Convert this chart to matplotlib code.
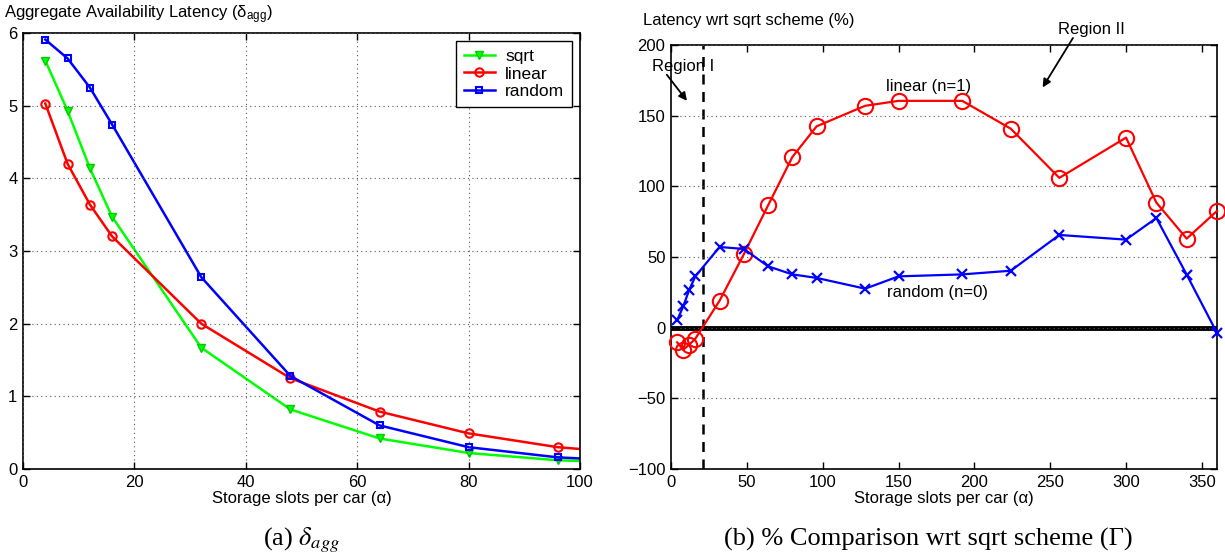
import matplotlib
matplotlib.use('Agg')
import matplotlib.pyplot as plt

plt.rcParams['font.family'] = ['Liberation Sans', 'DejaVu Sans']
plt.rcParams['mathtext.fontset'] = 'custom'
plt.rcParams['mathtext.rm'] = 'Liberation Sans'
plt.rcParams['mathtext.it'] = 'Liberation Sans:italic'
plt.rcParams['axes.unicode_minus'] = True

# --------- (a) 지연시간 데이터 ---------
slots_a = [4, 8, 12, 16, 32, 48, 64, 80, 96, 112]
sqrt_lat = [5.62, 4.93, 4.14, 3.47, 1.67, 0.82, 0.42, 0.22, 0.12, 0.08]
linear_lat = [5.03, 4.20, 3.64, 3.20, 2.00, 1.25, 0.79, 0.49, 0.30, 0.20]
random_lat = [5.91, 5.65, 5.25, 4.74, 2.64, 1.28, 0.60, 0.30, 0.16, 0.10]

# --------- (b) sqrt 대비 비율 (%) ---------
slots_lin = [4, 8, 12, 16, 32, 48, 64, 80, 96, 128, 150, 192, 224, 256, 300, 320, 340, 360]
linear_pct = [-10.4, -15.6, -12.0, -7.8, 19.1, 52, 86.6, 120.8, 142.5, 157, 160.5,
              160.5, 140.8, 106, 134.5, 88.5, 63, 82.6]
slots_rnd = [4, 8, 12, 16, 32, 48, 64, 80, 96, 128, 150, 192, 224, 256, 300, 320, 340, 360]
random_pct = [5.2, 15, 26.8, 36.3, 57.1, 55.7, 43.4, 37.7, 35.2, 27.6, 36.3, 37.7,
              40.3, 65.6, 62.3, 77.6, 37.5, -3.8]
REGION_SPLIT = 21

fig = plt.figure(figsize=(12.25, 5.56), dpi=100)
ax1 = fig.add_axes([0.0188, 0.1565, 0.4547, 0.7841])
ax2 = fig.add_axes([0.5478, 0.1565, 0.4457, 0.7625])

FS = 12

# --------- (a) ---------
ax1.plot(slots_a, sqrt_lat, color=(0, 1, 0), lw=1.8, marker='v', ms=6,
         mfc=(0, 1, 0), mec=(0, 0.8, 0), label='sqrt')
ax1.plot(slots_a, linear_lat, color='red', lw=1.8, marker='o', ms=6,
         mfc='none', mec='red', mew=1.5, label='linear')
ax1.plot(slots_a, random_lat, color='blue', lw=1.8, marker='s', ms=5,
         mfc='none', mec='blue', mew=1.5, label='random')
ax1.set_xlim(0, 100)
ax1.set_ylim(0, 6)
ax1.set_xticks(range(0, 101, 20))
ax1.set_yticks(range(0, 7))
ax1.grid(True, linestyle=(0, (1, 3)), color='0.35', lw=0.8)
ax1.set_xlabel('Storage slots per car (α)', fontsize=FS, labelpad=1)
leg = ax1.legend(loc='upper right', fontsize=12.5, fancybox=False, framealpha=1,
                 edgecolor='black', handlelength=1.8, borderaxespad=0.45,
                 labelspacing=0.15, borderpad=0.45, handletextpad=0.6)
leg.get_frame().set_linewidth(1.0)
fig.text(0.0035, 0.974, r'Aggregate Availability Latency (δ$_{\mathrm{agg}}$)',
         fontsize=FS, ha='left', va='center')
fig.text(0.2465, 0.028, r'(a) $\delta_{agg}$', fontsize=19, ha='center', va='center',
         family='Liberation Serif', math_fontfamily='stix')

# --------- (b) ---------
ax2.axhline(0, color='black', lw=3.5, zorder=1)
ax2.axvline(REGION_SPLIT, color='black', lw=1.8, ls=(0, (4, 3)), zorder=1)
ax2.plot(slots_lin, linear_pct, color='red', lw=1.6, marker='o', ms=11,
         mfc='none', mec='red', mew=1.5, zorder=3, clip_on=False)
ax2.plot(slots_rnd, random_pct, color='blue', lw=1.6, marker='x', ms=7,
         mec='blue', mew=1.6, zorder=3, clip_on=False)
ax2.set_xlim(0, 360)
ax2.set_ylim(-100, 200)
ax2.set_xticks(range(0, 351, 50))
ax2.set_yticks(range(-100, 201, 50))
ax2.yaxis.grid(True, linestyle=(0, (1, 3)), color='0.35', lw=0.8)
ax2.set_xlabel('Storage slots per car (α)', fontsize=FS, labelpad=1)
ax2.text(170, 171, 'linear (n=1)', fontsize=FS, ha='center', va='center')
ax2.text(176, 25, 'random (n=0)', fontsize=FS, ha='center', va='center')

# 영역 표시 (Region I / II)
arrow = dict(arrowstyle='-|>', color='black', lw=1.3, mutation_scale=12,
             shrinkA=0, shrinkB=0, clip_on=False)
ax2.text(8, 185, 'Region I', fontsize=FS, ha='center', va='center', clip_on=False)
ax2.annotate('', xy=(10.5, 160.5), xytext=(-2.8, 179), annotation_clip=False,
             arrowprops=arrow)
ax2.text(277, 211, 'Region II', fontsize=FS, ha='center', va='center', clip_on=False)
ax2.annotate('', xy=(245, 170), xytext=(265, 205), annotation_clip=False,
             arrowprops=arrow)
fig.text(0.525, 0.963, 'Latency wrt sqrt scheme (%)', fontsize=FS, ha='left', va='center')
fig.text(0.758, 0.03, '(b) % Comparison wrt sqrt scheme (Γ)', fontsize=19,
         ha='center', va='center', family='Liberation Serif')

for ax in (ax1, ax2):
    ax.tick_params(direction='in', top=True, right=True, length=5, width=1,
                   labelsize=FS, pad=4)
    for sp in ax.spines.values():
        sp.set_linewidth(1.2)
    ax.set_axisbelow(False)

fig.savefig('out.png', dpi=100)
